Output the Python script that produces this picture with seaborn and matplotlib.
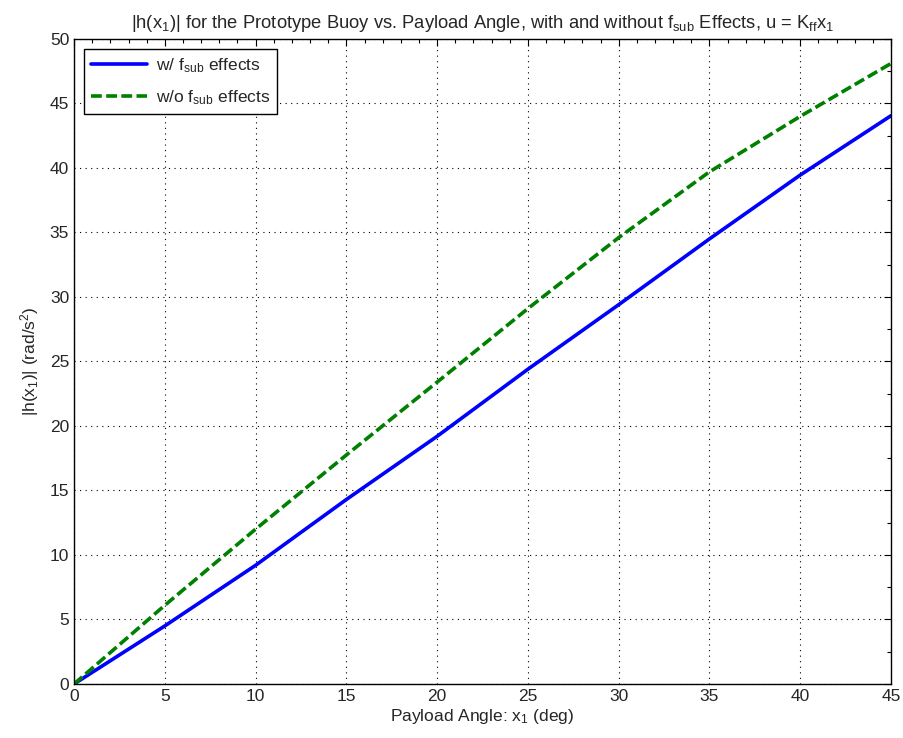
import matplotlib
matplotlib.use("Agg")
import matplotlib.pyplot as plt
from matplotlib.ticker import MultipleLocator
import seaborn as sns
import pandas as pd

angle_deg = [0, 5, 10, 15, 20, 25, 30, 35, 40, 45]
h_with_fsub = [0, 4.5, 9.2, 14.3, 19.2, 24.4, 29.4, 34.5, 39.45, 44.05]
h_without_fsub = [0, 6.1, 12.0, 17.75, 23.4, 29.1, 34.6, 39.7, 44.0, 48.1]
label_with = "w/ f$_{sub}$ effects"
label_without = "w/o f$_{sub}$ effects"

sns.set_style("white")
plt.rcParams["font.family"] = ["Liberation Sans", "DejaVu Sans"]
plt.rcParams["mathtext.default"] = "regular"
plt.rcParams["mathtext.fontset"] = "custom"
plt.rcParams["mathtext.rm"] = "Liberation Sans"
plt.rcParams["mathtext.it"] = "Liberation Sans"

df = pd.DataFrame({"x": angle_deg * 2,
                   "y": h_with_fsub + h_without_fsub,
                   "series": [label_with] * len(angle_deg) + [label_without] * len(angle_deg)})

fig = plt.figure(figsize=(9.04, 7.38), dpi=100)
ax = fig.add_axes([0.0819, 0.0732, 0.9856 - 0.0819, 0.9472 - 0.0732])

sns.lineplot(data=df, x="x", y="y", hue="series", style="series",
             palette={label_with: "#0000ff", label_without: "#008000"},
             dashes={label_with: "", label_without: (3, 1.2)},
             linewidth=2.6, ax=ax)

ax.set_xlim(0, 45)
ax.set_ylim(0, 50)
ax.xaxis.set_major_locator(MultipleLocator(5))
ax.xaxis.set_minor_locator(MultipleLocator(1))
ax.yaxis.set_major_locator(MultipleLocator(5))
ax.yaxis.set_minor_locator(MultipleLocator(2.5))
ax.tick_params(which="both", direction="in", top=True, right=True, labelsize=12.5, color="black")
ax.tick_params(which="major", length=5, width=0.8)
ax.tick_params(which="minor", length=3, width=0.8)
ax.grid(True, which="major", linestyle=(0, (1, 4)), color="black", linewidth=0.8)
for s in ax.spines.values():
    s.set_visible(True)
    s.set_color("black")
    s.set_linewidth(1.0)

ax.set_title("|h(x$_1$)| for the Prototype Buoy vs. Payload Angle, with and without f$_{sub}$ Effects, u = K$_{ff}$x$_1$",
             fontsize=13.2, pad=8)
ax.set_xlabel("Payload Angle: x$_1$ (deg)", fontsize=12.5, labelpad=2)
ax.set_ylabel("|h(x$_1$)| (rad/s$^2$)", fontsize=12.5, labelpad=6)

leg = ax.legend(loc="upper left", fontsize=12.5, frameon=True, fancybox=False,
                edgecolor="black", framealpha=1, handlelength=3.2, handletextpad=0.5,
                labelspacing=0.75, borderaxespad=0.6)
leg.get_frame().set_linewidth(1.0)

fig.savefig("out.png", dpi=100)
